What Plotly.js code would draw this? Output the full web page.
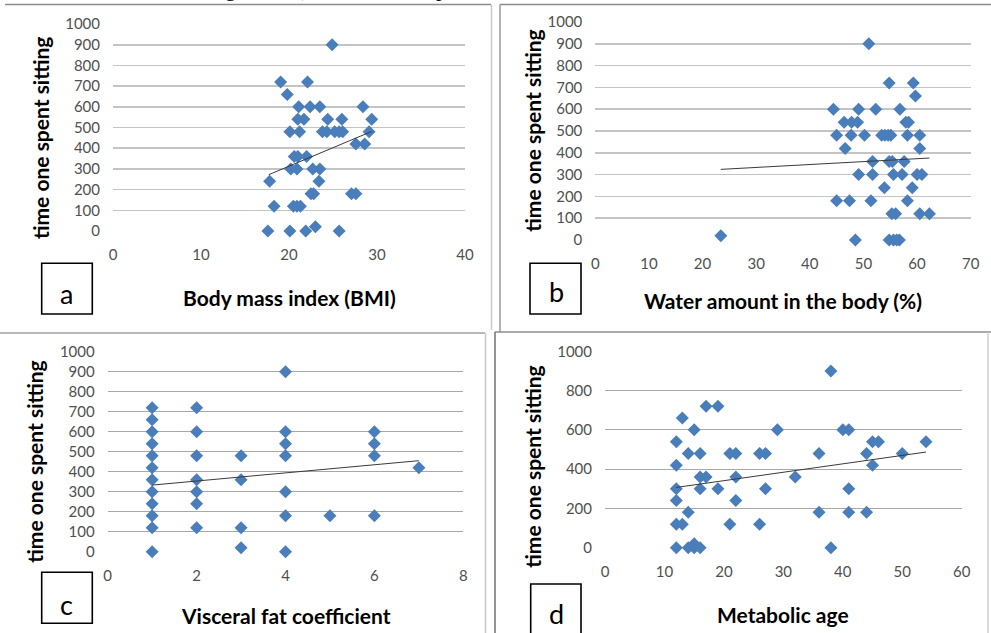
<!DOCTYPE html>
<html>
<head>
<meta charset="utf-8">
<script src="https://cdn.plot.ly/plotly-3.0.1.min.js"></script>
<style>
  html, body { margin: 0; padding: 0; background: #ffffff; }
  #chart { width: 991px; height: 633px; }
</style>
</head>
<body>
<div id="chart"></div>
<script>
// ---------------- DATA ----------------
const yTitle = "time one spent sitting";

// a) Body mass index
const bmi = [24.9, 19.05, 22.1, 19.8, 21.1, 22.4, 23.5, 28.4, 21.0, 21.7, 24.4, 26.0, 29.4,
  20.1, 21.2, 23.8, 24.3, 25.2, 25.7, 26.1, 29.1, 27.6, 28.6, 20.6, 21.0, 22.0,
  20.2, 20.9, 22.7, 23.5, 17.8, 23.4, 22.5, 22.8, 27.1, 27.6, 18.3, 20.5, 20.9, 21.3,
  17.6, 20.1, 21.9, 23.0, 25.7];
const bmiSitting = [900, 720, 720, 660, 600, 600, 600, 600, 540, 540, 540, 540, 540,
  480, 480, 480, 480, 480, 480, 480, 480, 420, 420, 360, 360, 360,
  300, 300, 300, 300, 240, 240, 180, 180, 180, 180, 120, 120, 120, 120,
  0, 0, 0, 20, 0];
const bmiTrendX = [17.7, 29.4];
const bmiTrendY = [272, 481];

// b) Water amount in the body (%)
const water = [51.0, 54.8, 59.3, 59.7, 44.4, 49.1, 52.3, 56.8,
  46.4, 47.8, 48.9, 57.9, 58.4,
  45.0, 47.7, 50.2, 53.4, 54.0, 54.6, 55.1, 58.2, 60.5,
  46.6, 60.5,
  51.7, 54.8, 55.4, 57.6,
  49.1, 51.7, 55.6, 57.2, 60.0, 60.9,
  53.9, 59.1,
  45.0, 47.4, 51.4, 58.2,
  55.3, 56.0, 60.5, 62.3,
  23.4,
  48.5, 54.8, 55.6, 56.2, 56.7];
const waterSitting = [900, 720, 720, 660, 600, 600, 600, 600,
  540, 540, 540, 540, 540,
  480, 480, 480, 480, 480, 480, 480, 480, 480,
  420, 420,
  360, 360, 360, 360,
  300, 300, 300, 300, 300, 300,
  240, 240,
  180, 180, 180, 180,
  120, 120, 120, 120,
  20,
  0, 0, 0, 0, 0];
const waterTrendX = [23.4, 62.3];
const waterTrendY = [324, 376];

// c) Visceral fat coefficient
const visceral = [1, 1, 1, 1, 1, 1, 1, 1, 1, 1, 1, 1,
  2, 2, 2, 2, 2, 2, 2,
  3, 3, 3, 3,
  4, 4, 4, 4, 4, 4, 4,
  5,
  6, 6, 6, 6,
  7];
const visceralSitting = [720, 660, 600, 540, 480, 420, 360, 300, 240, 180, 120, 0,
  720, 600, 480, 360, 300, 240, 120,
  480, 360, 120, 20,
  900, 600, 540, 480, 300, 180, 0,
  180,
  600, 540, 480, 180,
  420];
const visceralTrendX = [1, 7];
const visceralTrendY = [333, 455];

// d) Metabolic age
const metAge = [38, 17, 19, 13, 15, 29, 40, 41,
  12, 45, 46, 54,
  14, 16, 21, 22, 26, 27, 36, 44, 50,
  12, 45,
  16, 17, 22, 32,
  12, 16, 19, 27, 41,
  12, 22,
  14, 36, 41, 44,
  12, 13, 21, 26,
  12, 14, 15, 15, 16, 38];
const metAgeSitting = [900, 720, 720, 660, 600, 600, 600, 600,
  540, 540, 540, 540,
  480, 480, 480, 480, 480, 480, 480, 480, 480,
  420, 420,
  360, 360, 360, 360,
  300, 300, 300, 300, 300,
  240, 240,
  180, 180, 180, 180,
  120, 120, 120, 120,
  0, 0, 20, 0, 0, 0];
const metAgeTrendX = [12, 54];
const metAgeTrendY = [307, 487];

// Panel texts
const panelLetters = ["a", "b", "c", "d"];
const xTitles = ["Body mass index (BMI)", "Water amount in the body (%)", "Visceral fat coefficient", "Metabolic age"];
const xRanges = [[0, 40], [0, 70], [0, 8], [0, 60]];
const xDticks = [10, 10, 2, 10];
const yDticks = [100, 100, 100, 200];

// ---------------- LAYOUT HELPERS ----------------
const W = 991, H = 633;
const px = v => v / W;
const py = v => 1 - v / H;

// plot-area boxes in pixels: [left, right, top, bottom]
const boxes = [
  [113, 465, 24, 231],
  [595.3, 970.7, 22, 240],
  [107.7, 463.3, 351.7, 551.7],
  [605, 961.7, 351.3, 547.7]
];
const markerColor = "#4a7ebb";
const tickFont = { family: "Lato, 'Open Sans', sans-serif", size: 15, color: "#505050" };
const titleFont = { family: "Lato, 'Open Sans', sans-serif", size: 21, color: "#000000" };

const xs = [bmi, water, visceral, metAge];
const ys = [bmiSitting, waterSitting, visceralSitting, metAgeSitting];
const txs = [bmiTrendX, waterTrendX, visceralTrendX, metAgeTrendX];
const tys = [bmiTrendY, waterTrendY, visceralTrendY, metAgeTrendY];
const gridCols = ["#c4c4c4", "#c4c4c4", "#a8a8a8", "#a8a8a8"];

const traces = [];
const layout = {
  width: W, height: H,
  margin: { l: 0, r: 0, t: 0, b: 0 },
  paper_bgcolor: "#ffffff",
  plot_bgcolor: "rgba(0,0,0,0)",
  showlegend: false,
  annotations: [],
  shapes: []
};

for (let i = 0; i < 4; i++) {
  const sfx = i === 0 ? "" : String(i + 1);
  const xa = "x" + sfx, ya = "y" + sfx;
  const [l, r, t, b] = boxes[i];
  traces.push({
    type: "scatter", mode: "markers", x: xs[i], y: ys[i], xaxis: xa, yaxis: ya,
    marker: { symbol: "diamond", size: 10, color: markerColor, line: { width: 0 } },
    cliponaxis: false, hoverinfo: "x+y"
  });
  traces.push({
    type: "scatter", mode: "lines", x: txs[i], y: tys[i], xaxis: xa, yaxis: ya,
    line: { color: "#3a3a3a", width: 1 }, hoverinfo: "skip"
  });
  layout["xaxis" + sfx] = {
    domain: [px(l), px(r)], anchor: ya, range: xRanges[i], dtick: xDticks[i], tick0: 0,
    showgrid: false, zeroline: false, showline: false, ticks: "",
    ticklabelstandoff: 13, tickfont: tickFont, fixedrange: true
  };
  layout["yaxis" + sfx] = {
    domain: [py(b), py(t)], anchor: xa, range: [0, 1000], dtick: yDticks[i], tick0: 0,
    showgrid: true, gridcolor: gridCols[i], gridwidth: i < 2 ? 1.6 : 1,
    zeroline: false, showline: false, ticks: "",
    ticklabelstandoff: 12, tickfont: tickFont, fixedrange: true
  };
}

// y titles (rotated) and x titles
const yTitlePos = [[40, 138], [531.7, 131], [35, 461.7], [533, 466.7]];
const xTitlePos = [[289, 297.7], [783.3, 300], [286.3, 615], [783, 614.3]];
for (let i = 0; i < 4; i++) {
  layout.annotations.push({
    xref: "paper", yref: "paper", x: px(yTitlePos[i][0]), y: py(yTitlePos[i][1]),
    text: "<b>" + yTitle + "</b>", textangle: -90, showarrow: false,
    xanchor: "center", yanchor: "middle", font: titleFont
  });
  layout.annotations.push({
    xref: "paper", yref: "paper", x: px(xTitlePos[i][0]), y: py(xTitlePos[i][1]),
    text: "<b>" + xTitles[i] + "</b>", showarrow: false,
    xanchor: "center", yanchor: "middle", font: titleFont
  });
}

// letter boxes
const letterBoxes = [
  [41.7, 263.3, 92.3, 314, 66.7, 293],
  [530, 263.3, 581, 314, 556.7, 291.7],
  [41.7, 572.3, 92.3, 623.3, 66, 604],
  [530.7, 584, 581, 640, 556.7, 613.3]
];
letterBoxes.forEach((bx, i) => {
  layout.shapes.push({
    type: "rect", xref: "paper", yref: "paper",
    x0: px(bx[0]), x1: px(bx[2]), y0: py(bx[3]), y1: py(bx[1]),
    line: { color: "#000000", width: 1.6 }, fillcolor: "rgba(0,0,0,0)"
  });
  layout.annotations.push({
    xref: "paper", yref: "paper", x: px(bx[4]), y: py(bx[5]),
    text: panelLetters[i], showarrow: false, xanchor: "center", yanchor: "middle",
    font: { family: "Lato, 'Open Sans', sans-serif", size: 27, color: "#000000" }
  });
});

// panel frame lines [x0,y0,x1,y1,color]
const frames = [
  [5, 4.5, 491, 4.5, "#8c8c8c"],
  [491.5, 4.5, 491.5, 330, "#c8c8c8"],
  [500, 4.5, 991, 4.5, "#8c8c8c"],
  [500, 4.5, 500, 332, "#9a9a9a"],
  [0, 333, 485, 333, "#a0a0a0"],
  [485.5, 333, 485.5, 633, "#c8c8c8"],
  [495, 332, 991, 332, "#8c8c8c"],
  [495, 332, 495, 633, "#707070"],
  [988, 332, 988, 633, "#d0d0d0"]
];
frames.forEach(f => {
  layout.shapes.push({
    type: "line", xref: "paper", yref: "paper",
    x0: px(f[0]), y0: py(f[1]), x1: px(f[2]), y1: py(f[3]),
    line: { color: f[4], width: 1.5 }
  });
});

// caption line of the source page, cut by the top edge as in the reference
const topGlyphs = [["g", 230], ["(", 299], ["p", 441], [",", 532]];
topGlyphs.forEach(g => {
  layout.annotations.push({
    xref: "paper", yref: "paper", x: px(g[1]), y: py(-12),
    text: g[0], showarrow: false, xanchor: "center", yanchor: "middle",
    font: { family: "'Liberation Serif', serif", size: 22, color: "#000000" }
  });
});

Plotly.newPlot("chart", traces, layout, { displayModeBar: false, staticPlot: true });
</script>
</body>
</html>
